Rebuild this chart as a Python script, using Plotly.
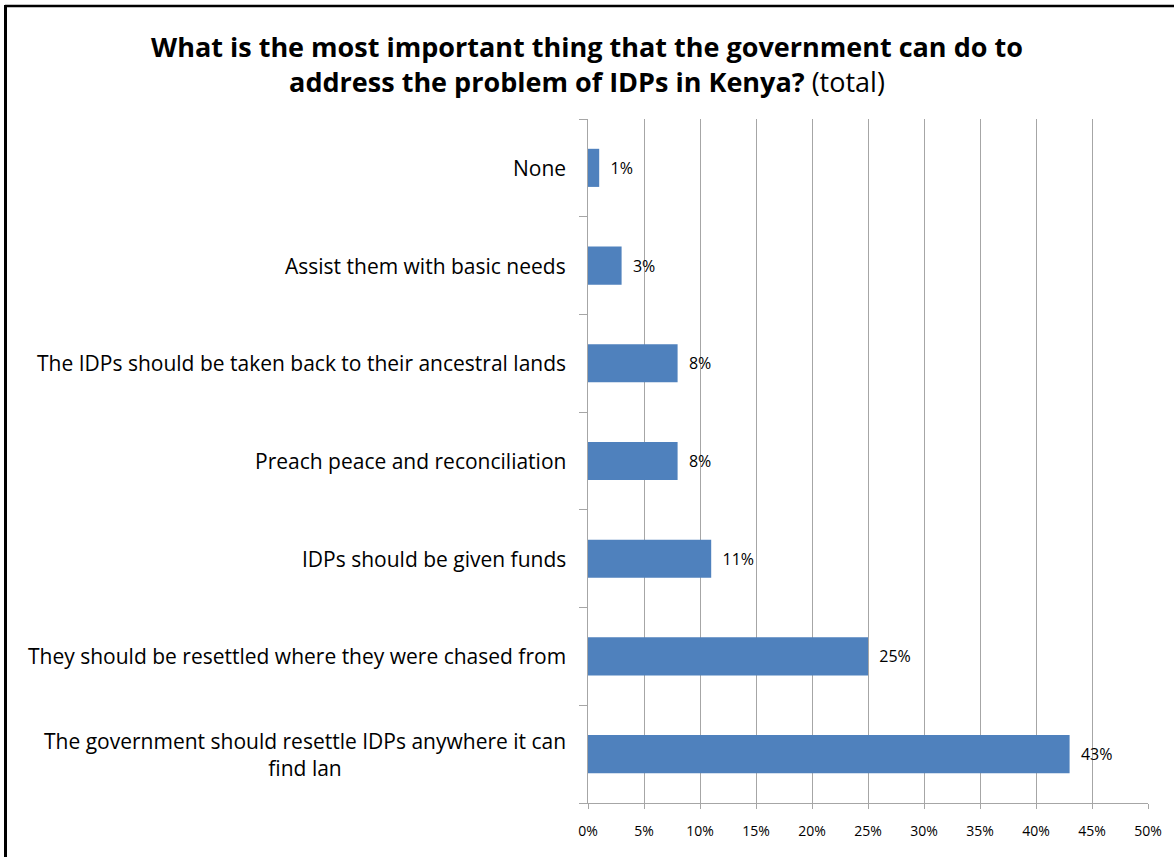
import plotly.graph_objects as go

categories = [
    "The government should resettle IDPs anywhere it can<br>find lan",
    "They should be resettled where they were chased from",
    "IDPs should be given funds",
    "Preach peace and reconciliation",
    "The IDPs should be taken back to their ancestral lands",
    "Assist them with basic needs",
    "None",
]
values = [0.43, 0.25, 0.11, 0.08, 0.08, 0.03, 0.01]
x_ticks = [0, 0.05, 0.10, 0.15, 0.20, 0.25, 0.30, 0.35, 0.40, 0.45, 0.50]

FONT = "Open Sans"
GRID = "#a6a6a6"
TOP, BOTTOM, LEFT, RIGHT = 119, 803, 588, 1148
PH = BOTTOM - TOP
PW = RIGHT - LEFT

fig = go.Figure()
fig.add_trace(go.Bar(
    y=categories, x=values, orientation="h",
    marker=dict(color="#4f81bd", line=dict(color="#4f81bd", width=0)),
    width=0.39,
    texttemplate="\u00a0\u00a0%{x:.0%}", textposition="outside",
    textfont=dict(family=FONT, size=16, color="black"),
    constraintext="none",
    cliponaxis=False,
))

for c in categories:
    fig.add_annotation(
        x=0, xref="paper", y=c, yref="y", xanchor="right", yanchor="middle",
        xshift=-20, text=c, showarrow=False, align="center",
        font=dict(family=FONT, size=21, color="black"),
    )

# frame: only top and left edges are visible in the reference
fig.add_shape(type="line", xref="paper", yref="paper",
              x0=(5 - LEFT) / PW, x1=(1180 - LEFT) / PW,
              y0=(BOTTOM - 6) / PH, y1=(BOTTOM - 6) / PH,
              line=dict(color="black", width=2.5), layer="above")
fig.add_shape(type="line", xref="paper", yref="paper",
              x0=(5.5 - LEFT) / PW, x1=(5.5 - LEFT) / PW,
              y0=(BOTTOM - 5) / PH, y1=(BOTTOM - 870) / PH,
              line=dict(color="black", width=3), layer="above")

fig.update_layout(
    width=1174, height=857,
    margin=dict(l=LEFT, r=1174 - RIGHT, t=TOP, b=857 - BOTTOM),
    paper_bgcolor="white", plot_bgcolor="white",
    showlegend=False,
    title=dict(
        text="<b>What is the most important thing that the government can do to</b><br><b>address the problem of IDPs in Kenya?</b> (total)",
        x=0.5, xanchor="center", y=(857 - 57) / 857, yanchor="middle",
        font=dict(family=FONT, size=27, color="black"),
    ),
    xaxis=dict(
        range=[0, 0.5], tickvals=x_ticks, tickformat=".0%",
        showgrid=True, gridcolor=GRID, gridwidth=1,
        showline=True, linecolor=GRID, linewidth=1,
        ticks="outside", ticklen=5, tickcolor=GRID,
        ticklabelstandoff=10,
        tickfont=dict(family=FONT, size=14, color="black"),
        zeroline=False, fixedrange=True,
    ),
    yaxis=dict(
        categoryorder="array", categoryarray=categories,
        showticklabels=False, showgrid=False,
        showline=True, linecolor=GRID, linewidth=1,
        ticks="outside", ticklen=8, tickcolor=GRID, tickson="boundaries",
        zeroline=False, fixedrange=True,
    ),
)

fig.write_html("out.html", config={"displayModeBar": False},
               post_script="document.body.style.margin='0';")
